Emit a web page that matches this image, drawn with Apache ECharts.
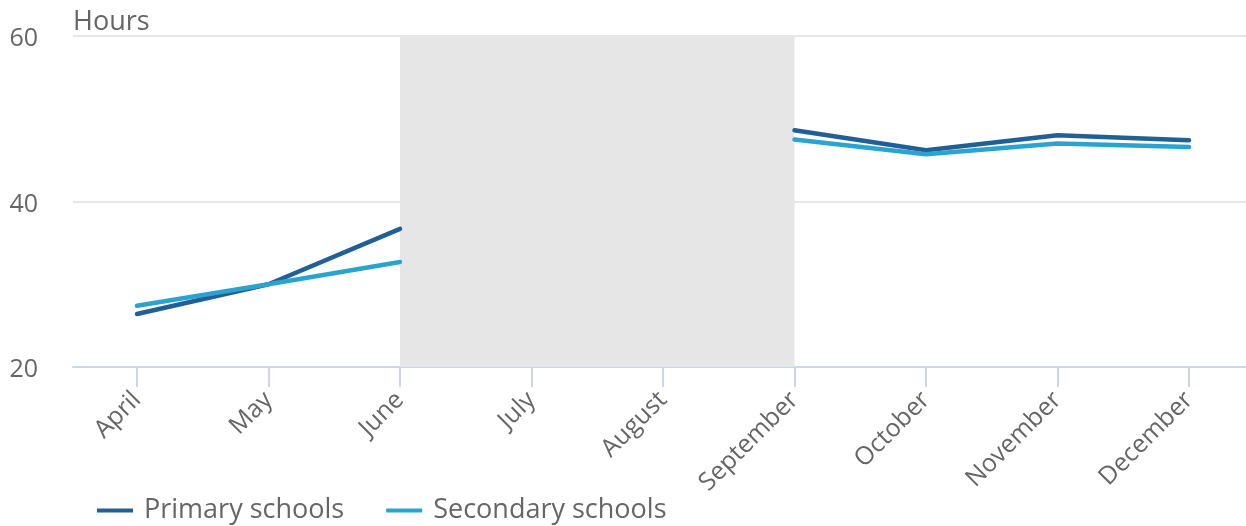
<!DOCTYPE html>
<html>
<head>
<meta charset="utf-8">
<script src="https://cdn.jsdelivr.net/npm/echarts@6/dist/echarts.min.js"></script>
<style>html,body{margin:0;padding:0;background:#fff}#c{width:1246px;height:526px}</style>
</head>
<body>
<div id="c"></div>
<script>
var months = ['April','May','June','July','August','September','October','November','December'];
var primary = [26.4, 30.0, 36.7, null, null, 48.6, 46.2, 48.0, 47.4];
var secondary = [27.4, 30.0, 32.7, null, null, 47.5, 45.7, 47.0, 46.6];
var yTicks = [20, 40, 60];
var shadeFrom = 'June', shadeTo = 'September';

var chart = echarts.init(document.getElementById('c'));
var font = '"Open Sans", sans-serif';
chart.setOption({
  animation: false,
  textStyle: {fontFamily: font},
  grid: [
    {left: 73, right: 0, top: 36, bottom: 159},
    {left: 137, right: 57, top: 36, bottom: 159}
  ],
  xAxis: [
    {gridIndex: 0, type: 'value', min: 0, max: 1, show: true,
     axisLine: {show: true, lineStyle: {color: '#ccd6eb', width: 2}},
     axisTick: {show: false}, axisLabel: {show: false}, splitLine: {show: false}},
    {gridIndex: 1, type: 'category', data: months, boundaryGap: false,
     axisLine: {show: false},
     axisTick: {show: true, alignWithLabel: true, length: 20, lineStyle: {color: '#ccd6eb', width: 2}},
     axisLabel: {rotate: 45, color: '#666666', fontSize: 25, fontFamily: font, margin: 29, interval: 0},
     splitLine: {show: false}}
  ],
  yAxis: [
    {gridIndex: 0, type: 'value', min: yTicks[0], max: yTicks[yTicks.length-1], interval: 20,
     name: 'Hours', nameLocation: 'end', nameGap: 0,
     nameTextStyle: {color: '#666666', fontSize: 27, fontFamily: font, align: 'left', padding: [0,0,0,0]},
     axisLine: {show: false}, axisTick: {show: false},
     axisLabel: {color: '#666666', fontSize: 25, fontFamily: font, margin: 35,
       formatter: '{a|{value}}',
       rich: {a: {color: '#666666', fontSize: 25, fontFamily: font, padding: [6,0,0,0]}}},
     splitLine: {show: true, lineStyle: {color: '#e6e6e6', width: 2}}},
    {gridIndex: 1, type: 'value', min: yTicks[0], max: yTicks[yTicks.length-1], interval: 20, show: false}
  ],
  legend: {
    left: 92, top: 492, itemWidth: 36, itemHeight: 4, itemGap: 42,
    icon: 'rect',
    textStyle: {color: '#666666', fontSize: 27, fontFamily: font, padding: [0,0,0,6]},
    data: ['Primary schools', 'Secondary schools']
  },
  series: [
    {name: 'Primary schools', type: 'line', xAxisIndex: 1, yAxisIndex: 1, data: primary,
     color: '#215f97', showSymbol: false, symbol: 'none', connectNulls: false,
     lineStyle: {width: 4.5, cap: 'round', join: 'round'},
     markArea: {silent: true, itemStyle: {color: '#e6e6e6'},
       data: [[{xAxis: shadeFrom, yAxis: 20}, {xAxis: shadeTo, yAxis: 60}]]},
     z: 3},
    {name: 'Secondary schools', type: 'line', xAxisIndex: 1, yAxisIndex: 1, data: secondary,
     color: '#2aa3d0', showSymbol: false, symbol: 'none', connectNulls: false,
     lineStyle: {width: 4.5, cap: 'round', join: 'round'}, z: 4}
  ]
});
</script>
</body>
</html>
